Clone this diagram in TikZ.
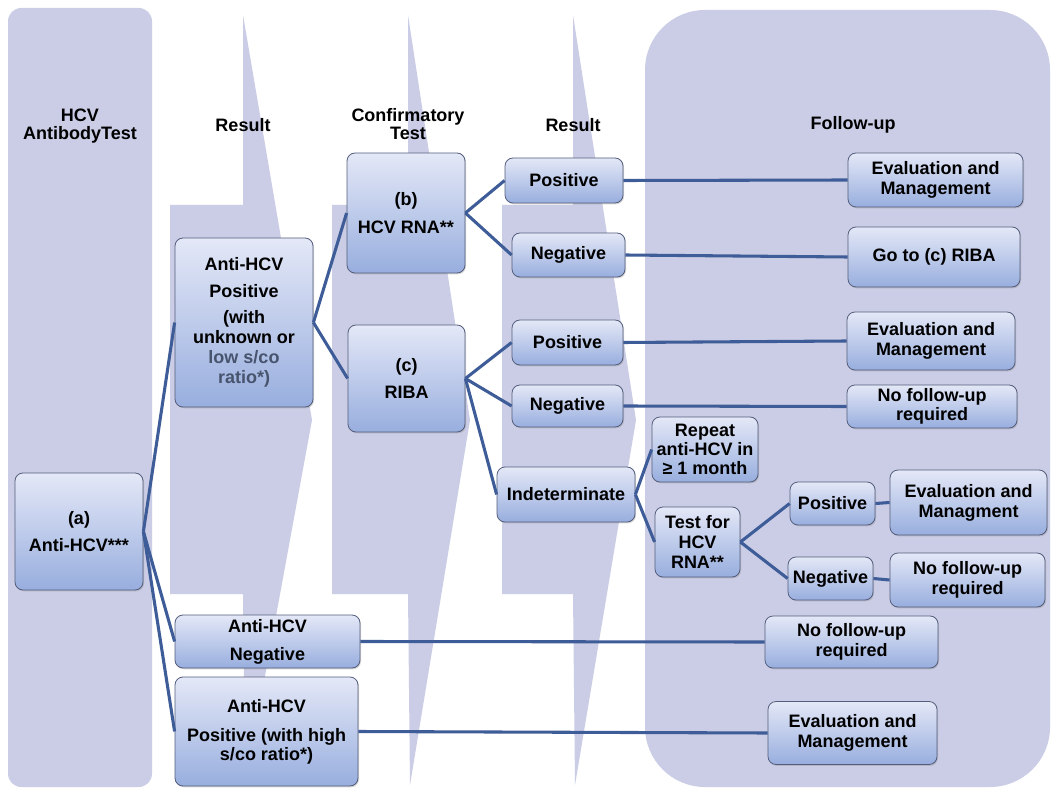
\documentclass[tikz,border=0pt]{standalone}
\usepackage{fontspec}
\setmainfont{Liberation Sans}
\usetikzlibrary{shadows}
\definecolor{bandcol}{RGB}{202,205,229}
\definecolor{boxtop}{RGB}{228,232,247}
\definecolor{boxbot}{RGB}{152,174,222}
\definecolor{boxline}{RGB}{84,94,124}
\definecolor{linkcol}{RGB}{62,92,152}
\definecolor{softtxt}{RGB}{72,84,110}

\begin{document}
\begin{tikzpicture}[
  x=0.75pt, y=-0.75pt,
  font=\fontsize{13.5pt}{15pt}\selectfont\bfseries,
  band/.style={fill=bandcol, draw=none},
  hdr/.style={align=center, inner sep=1pt},
  box/.style={draw=boxline, line width=0.6pt, rounded corners=6pt, rectangle, align=center, inner sep=1pt, top color=boxtop, bottom color=boxbot, drop shadow={shadow xshift=0.8pt, shadow yshift=-1pt, opacity=0.3}},
  link/.style={draw=linkcol, line width=2.3pt}
]
\useasboundingbox[fill=white] (0,0) rectangle (1052,791);

\fill[band, rounded corners=10pt] (8,8) rectangle (152,787);
\fill[band] (243,15) -- (243,205) -- (170,205) -- (170,594) -- (243,594) -- (245,785) -- (312,420) -- cycle;
\fill[band] (408,15) -- (408,205) -- (332,205) -- (332,594) -- (408,594) -- (410,785) -- (470,420) -- cycle;
\fill[band] (573,15) -- (573,205) -- (502,205) -- (502,594) -- (573,594) -- (575,785) -- (636,420) -- cycle;
\fill[band, rounded corners=45pt] (645,10) rectangle (1050,787);

\node[hdr] (hAb) at (80,126) {HCV\\[-2pt]AntibodyTest};
\node[hdr] (hRes1) at (243,125) {Result};
\node[hdr] (hConf) at (408,124) {Confirmatory\\[-2pt]Test};
\node[hdr] (hRes2) at (573,125) {Result};
\node[hdr] (hFu) at (853,125) {Follow-up};

\node[box, minimum width=96pt, minimum height=87.75pt] (anti) at (79,531.5) {(a)\\[5pt]Anti-HCV***};
\node[box, minimum width=103.5pt, minimum height=126.75pt] (posLow) at (244,322.5) {Anti-HCV\\[5pt]Positive\\[5pt](with\\unknown or\\\textcolor{softtxt}{low s/co}\\\textcolor{softtxt}{ratio*)}};
\node[box, minimum width=138.75pt, minimum height=39.75pt] (negA) at (267.5,641.5) {Anti-HCV\\[6pt]Negative};
\node[box, minimum width=137.25pt, minimum height=81.75pt] (posHigh) at (266.5,731.5) {Anti-HCV\\[7pt]Positive (with high\\[-1pt]s/co ratio*)};

\node[box, minimum width=88.5pt, minimum height=90pt] (rna) at (406,213) {(b)\\[6pt]HCV RNA**};
\node[box, minimum width=87.75pt, minimum height=80.25pt] (riba) at (406.5,378.5) {(c)\\[5pt]RIBA};

\node[box, minimum width=88.5pt, minimum height=33.75pt] (rnaPos) at (564,180.5) {Positive};
\node[box, minimum width=84.75pt, minimum height=33pt] (rnaNeg) at (568.5,255) {Negative};
\node[box, minimum width=83.25pt, minimum height=33.75pt] (ribaPos) at (567.5,342.5) {Positive};
\node[box, minimum width=83.25pt, minimum height=31.5pt] (ribaNeg) at (567.5,406) {Negative};
\node[box, minimum width=103.5pt, minimum height=41.25pt] (ribaInd) at (566,494.5) {Indeterminate};

\node[box, minimum width=131.25pt, minimum height=40.5pt] (fuRnaPos) at (935.5,180) {Evaluation and\\Management};
\node[box, minimum width=129pt, minimum height=45pt] (fuRnaNeg) at (934,257) {Go to (c) RIBA};
\node[box, minimum width=126pt, minimum height=43.5pt] (fuRibaPos) at (931,341) {Evaluation and\\Management};
\node[box, minimum width=127.5pt, minimum height=32.25pt] (fuRibaNeg) at (932,406.5) {No follow-up\\[-1pt]required};

\node[box, minimum width=79.5pt, minimum height=48.75pt] (repeat) at (705,449.5) {Repeat\\[-1pt]anti-HCV in\\[-1pt]≥ 1 month};
\node[box, minimum width=63.75pt, minimum height=52.5pt] (testRna) at (697.5,542) {Test for\\HCV\\RNA**};
\node[box, minimum width=63.75pt, minimum height=32.25pt] (trPos) at (832.5,503.5) {Positive};
\node[box, minimum width=63.75pt, minimum height=32.25pt] (trNeg) at (830.5,578.5) {Negative};
\node[box, minimum width=117.75pt, minimum height=48.75pt] (fuTrPos) at (968.5,502.5) {Evaluation and\\Managment};
\node[box, minimum width=116.25pt, minimum height=40.5pt] (fuTrNeg) at (967.5,580) {No follow-up\\required};

\node[box, minimum width=129.75pt, minimum height=39pt] (fuNeg) at (851.5,642) {No follow-up\\required};
\node[box, minimum width=126.75pt, minimum height=47.25pt] (fuHigh) at (852.5,733) {Evaluation and\\Management};

\draw[link] (anti.east) -- (posLow.west);
\draw[link] (anti.east) -- (negA.west);
\draw[link] (anti.east) -- (posHigh.west);
\draw[link] (posLow.east) -- (rna.west);
\draw[link] (posLow.east) -- (riba.west);
\draw[link] (rna.east) -- (rnaPos.west);
\draw[link] (rna.east) -- (rnaNeg.west);
\draw[link] (riba.east) -- (ribaPos.west);
\draw[link] (riba.east) -- (ribaNeg.west);
\draw[link] (riba.east) -- (ribaInd.west);
\draw[link] (rnaPos.east) -- (fuRnaPos.west);
\draw[link] (rnaNeg.east) -- (fuRnaNeg.west);
\draw[link] (ribaPos.east) -- (fuRibaPos.west);
\draw[link] (ribaNeg.east) -- (fuRibaNeg.west);
\draw[link] (ribaInd.east) -- (repeat.west);
\draw[link] (ribaInd.east) -- (testRna.west);
\draw[link] (testRna.east) -- (trPos.west);
\draw[link] (testRna.east) -- (trNeg.west);
\draw[link] (trPos.east) -- (fuTrPos.west);
\draw[link] (trNeg.east) -- (fuTrNeg.west);
\draw[link] (negA.east) -- (fuNeg.west);
\draw[link] (posHigh.east) -- (fuHigh.west);
\end{tikzpicture}
\end{document}
